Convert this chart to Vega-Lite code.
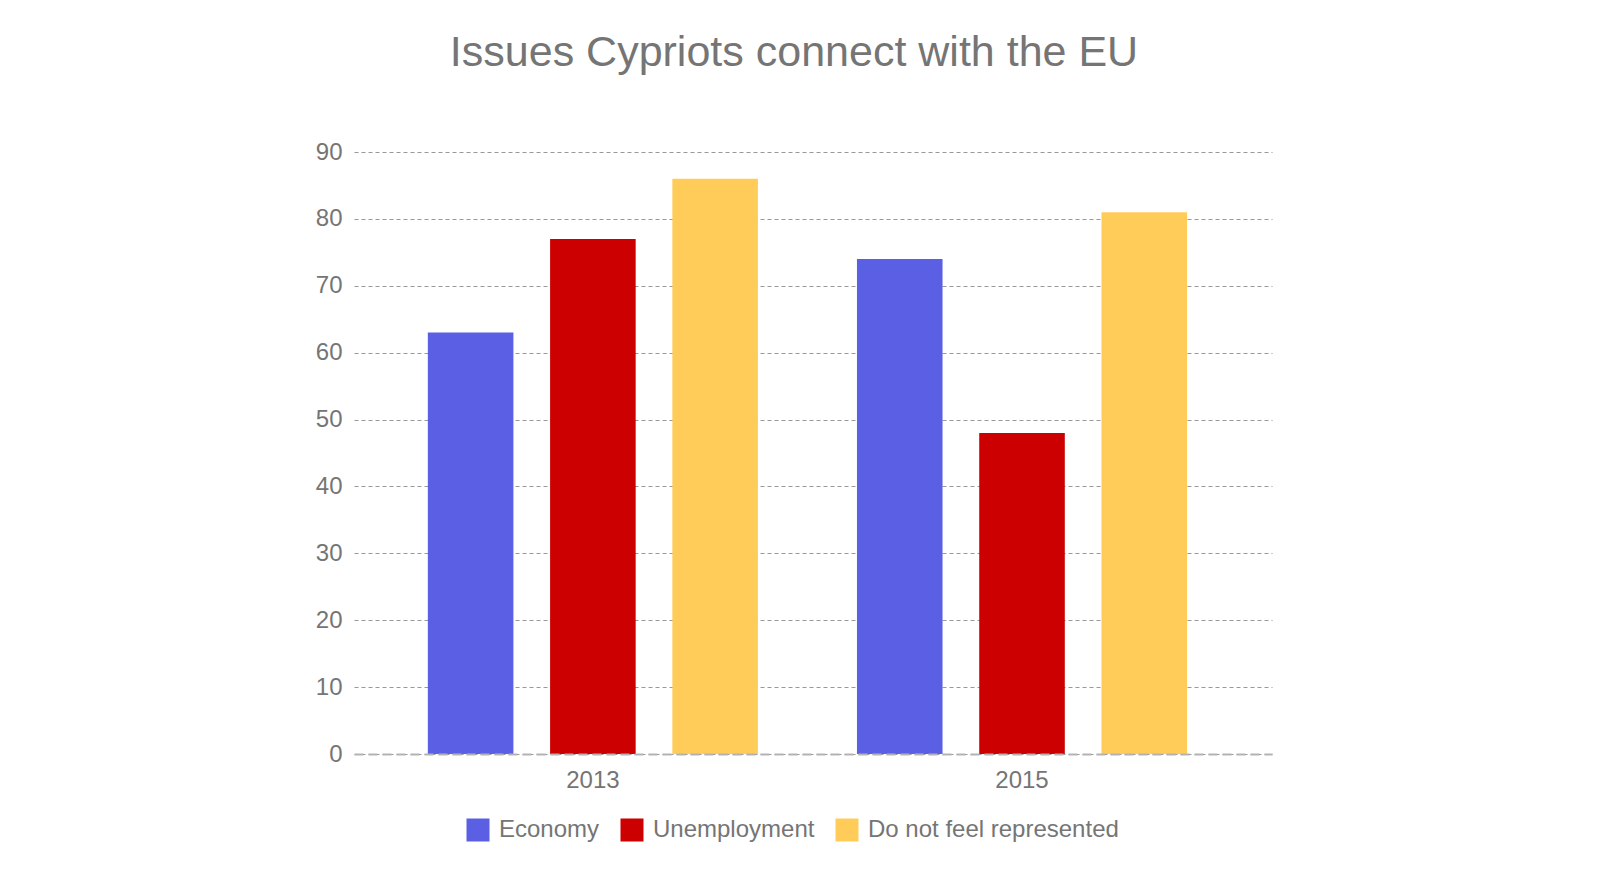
{
  "$schema": "https://vega.github.io/schema/vega-lite/v6.json",
  "width": 918,
  "height": 602,
  "autosize": "none",
  "padding": {"left": 354, "top": 152, "right": 328, "bottom": 130},
  "background": "white",
  "title": {
    "text": "Issues Cypriots connect with the EU",
    "fontSize": 43,
    "font": "Liberation Sans",
    "fontWeight": "normal",
    "color": "#757575",
    "anchor": "middle",
    "frame": "group",
    "dx": -19,
    "baseline": "alphabetic",
    "offset": 31
  },
  "data": {
    "values": [
      {"year": "2013", "issue": "Economy", "percent": 63},
      {"year": "2013", "issue": "Unemployment", "percent": 77},
      {"year": "2013", "issue": "Do not feel represented", "percent": 86},
      {"year": "2015", "issue": "Economy", "percent": 74},
      {"year": "2015", "issue": "Unemployment", "percent": 48},
      {"year": "2015", "issue": "Do not feel represented", "percent": 81}
    ]
  },
  "mark": {"type": "bar"},
  "encoding": {
    "x": {
      "field": "year",
      "type": "nominal",
      "scale": {"paddingInner": 0.2308, "paddingOuter": 0.185, "align": 0.465},
      "axis": {
        "title": null,
        "labelAngle": 0,
        "labelFont": "Liberation Sans",
        "labelFontSize": 24,
        "labelColor": "#757575",
        "labelPadding": 14,
        "ticks": false,
        "domain": true,
        "domainDash": [9, 5],
        "domainColor": "#b3b3b3",
        "domainWidth": 2,
        "zindex": 1
      }
    },
    "xOffset": {
      "field": "issue",
      "type": "nominal",
      "sort": ["Economy", "Unemployment", "Do not feel represented"],
      "scale": {"paddingInner": 0.3, "paddingOuter": 0}
    },
    "y": {
      "field": "percent",
      "type": "quantitative",
      "scale": {"domain": [0, 90], "nice": false},
      "axis": {
        "title": null,
        "values": [0, 10, 20, 30, 40, 50, 60, 70, 80, 90],
        "labelFont": "Liberation Sans",
        "labelFontSize": 24,
        "labelColor": "#757575",
        "labelPadding": 12,
        "ticks": false,
        "domain": false,
        "grid": true,
        "gridDash": [4, 3],
        "gridColor": "#999999",
        "gridWidth": 1
      }
    },
    "color": {
      "field": "issue",
      "type": "nominal",
      "sort": ["Economy", "Unemployment", "Do not feel represented"],
      "scale": {
        "domain": ["Economy", "Unemployment", "Do not feel represented"],
        "range": ["#5b5fe3", "#cc0000", "#ffcc5a"]
      },
      "legend": {
        "title": null,
        "orient": "none",
        "direction": "horizontal",
        "legendX": 112,
        "legendY": 666,
        "padding": 0,
        "symbolType": "square",
        "symbolSize": 529,
        "symbolStrokeWidth": 0,
        "symbolOpacity": 1,
        "labelFont": "Liberation Sans",
        "labelFontSize": 24,
        "labelColor": "#757575",
        "labelOffset": 9,
        "columnPadding": 20,
        "labelLimit": 400
      }
    }
  },
  "config": {"view": {"stroke": null}}
}
